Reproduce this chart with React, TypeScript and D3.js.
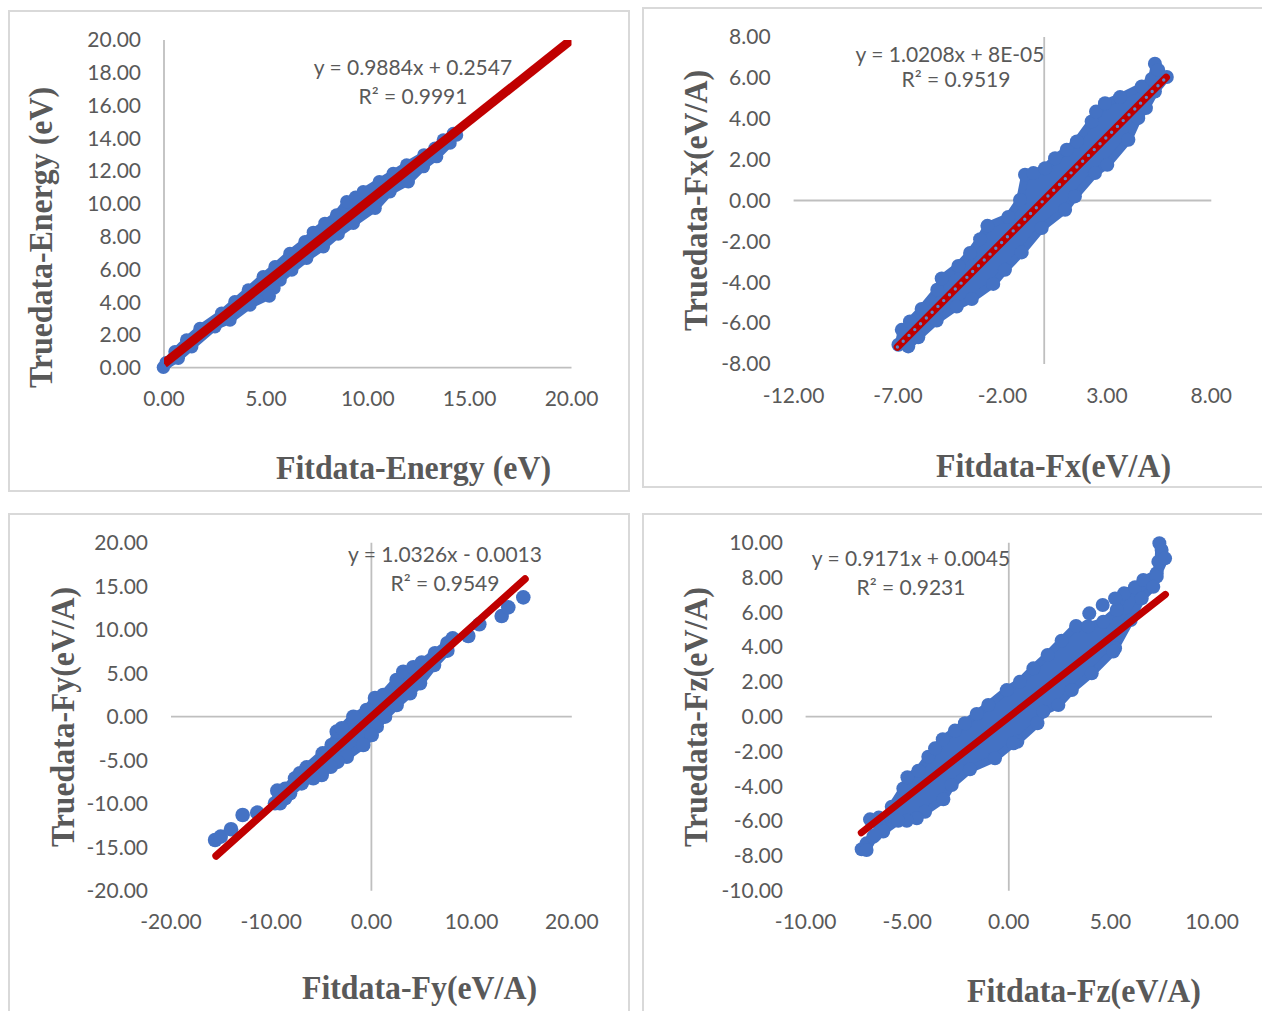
import React, { useEffect, useRef } from "react";
import * as d3 from "d3";

type Pt = [number, number];

const energyTicksX = [0, 5, 10, 15, 20];
const energyTicksY = [0, 2, 4, 6, 8, 10, 12, 14, 16, 18, 20];
const fxTicksX = [-12, -7, -2, 3, 8];
const fxTicksY = [-8, -6, -4, -2, 0, 2, 4, 6, 8];
const fyTicksX = [-20, -10, 0, 10, 20];
const fyTicksY = [-20, -15, -10, -5, 0, 5, 10, 15, 20];
const fzTicksX = [-10, -5, 0, 5, 10];
const fzTicksY = [-10, -8, -6, -4, -2, 0, 2, 4, 6, 8, 10];

const energyTrend: Pt[] = [[0, 0.25], [20, 20.02]];
const fxTrend: Pt[] = [[-7.03, -7.17], [5.84, 6.02]];
const fyTrend: Pt[] = [[-15.5, -16.0], [15.33, 15.83]];
const fzTrend: Pt[] = [[-7.26, -6.67], [7.71, 7.03]];

// the clouds are thousands of overlapping dots, so only the outer dots are read off:
// upper edge left to right, lower edge right to left, and the dots that stand alone
const energyUpper: Pt[] = [
  [-0.03, 0.02], [0.1, 0.3], [0.54, 0.98], [1.11, 1.69], [1.77, 2.4], [2.83, 3.32], [3.48, 4.03], [4.14, 4.74], [4.87, 5.55],
  [5.45, 6.16], [6.18, 6.97], [6.92, 7.69], [7.33, 8.26], [7.9, 8.81], [8.47, 9.32], [8.97, 10.13], [9.4, 10.4], [9.78, 10.74],
  [10.57, 11.35], [11.25, 11.86], [11.91, 12.37], [12.76, 12.99], [13.3, 13.4], [13.71, 13.9], [14.2, 14.3],
];
const energyLower: Pt[] = [
  [14.36, 14.2], [14.04, 13.71], [13.38, 12.88], [12.73, 12.27], [11.99, 11.35], [11.09, 10.74], [10.36, 9.73], [9.29, 8.81],
  [8.55, 8.16], [7.82, 7.38], [7, 6.68], [6.27, 5.96], [5.7, 5.35], [5.4, 4.86], [5.17, 4.38], [4.22, 3.83], [3.24, 2.91],
  [2.5, 2.5], [1.36, 1.28], [0.7, 0.57],
];
const energyLoose: Pt[] = [];

const fxUpper: Pt[] = [
  [-6.98, -7.06], [-6.82, -6.33], [-6.43, -5.92], [-5.87, -5.31], [-5.12, -4.37], [-4.91, -3.82], [-4.11, -3.2], [-3.55, -2.57],
  [-3.07, -1.89], [-2.72, -1.24], [-1.72, -0.81], [-1.16, 0.03], [-0.92, 1.26], [-0.52, 1.34], [0.04, 1.58], [0.52, 2.07],
  [1.08, 2.48], [1.56, 2.89], [2.27, 3.87], [2.48, 4.35], [2.91, 4.76], [3.63, 5.06], [4.67, 5.58], [5.15, 5.95], [5.3, 6.69],
  [5.46, 6.39], [5.87, 6.04],
];
const fxLower: Pt[] = [
  [5.3, 5.33], [4.87, 4.52], [4.5, 4.03], [4.03, 2.97], [3.02, 1.75], [2.43, 1.34], [1.47, 0.2], [1.0, -0.45], [-0.12, -1.35],
  [-1.08, -2.54], [-1.88, -3.39], [-2.44, -4.08], [-3.47, -4.82], [-4.19, -5.19], [-5.15, -5.87], [-6.03, -6.69], [-6.51, -7.14],
];
const fxLoose: Pt[] = [];

const fyUpper: Pt[] = [
  [-9.62, -9.95], [-9.39, -8.5], [-8.6, -8.3], [-7.62, -7.08], [-7.13, -6.5], [-6.46, -5.82], [-4.86, -4.21], [-3.96, -3.25],
  [-3.46, -1.72], [-2.96, -1.33], [-1.8, 0], [-0.47, 0.77], [0.36, 2.15], [1.19, 2.5], [2.52, 4.22], [3.18, 5.17], [4.18, 5.68],
  [5.02, 6.21], [6.35, 7.29], [7.58, 8.44], [8.11, 9.01],
];
const fyLower: Pt[] = [
  [7.58, 7.59], [6.25, 5.94], [4.85, 3.84], [3.85, 2.69], [2.52, 1.34], [1.36, 0], [0.53, -1.15], [0.03, -2.1], [-0.81, -3.25],
  [-2.46, -4.6], [-3.4, -5.2], [-4.06, -5.75], [-4.96, -6.7], [-5.8, -7.08], [-6.96, -7.66], [-8.12, -8.8], [-8.62, -9.38], [-9.12, -9.95],
];
const fyLoose: Pt[] = [
  [-15.6, -14.17], [-15.04, -13.79], [-14.01, -12.94], [-12.85, -11.3], [-11.39, -11.03], [9.67, 9.28], [10.77, 10.62], [13, 11.57],
  [13.66, 12.57], [15.16, 13.72],
];

const fzUpper: Pt[] = [
  [-7.24, -7.62], [-7.0, -7.28], [-6.67, -6.9], [-6.34, -6.3], [-5.76, -5.17], [-5.19, -4.12], [-4.99, -3.48], [-4.45, -3.1],
  [-3.96, -2.3], [-3.63, -1.82], [-3.25, -1.3], [-2.65, -0.8], [-2.16, -0.38], [-1.58, 0.16], [-1.01, 0.67], [-0.1, 1.53], [0.55, 2.01],
  [1.21, 2.78], [1.91, 3.55], [2.6, 4.37], [3.31, 5.21], [3.9, 5.2], [4.65, 5.46], [5.31, 6.13], [5.67, 7.09], [6.21, 7.44], [6.62, 7.86],
  [7.28, 8.24], [7.36, 8.91], [7.41, 9.97], [7.52, 9.58], [7.69, 9.1],
];
const fzLower: Pt[] = [
  [7.28, 8.05], [7.11, 7.47], [6.54, 6.8], [6.0, 5.56], [5.23, 3.93], [5.14, 3.74], [4.08, 2.49], [3.1, 1.53], [2.44, 0.67], [1.7, 0.29],
  [1.41, -0.38], [0.42, -1.44], [0.22, -1.53], [-0.68, -2.39], [-1.91, -3.02], [-2.81, -3.93], [-3.22, -4.75], [-4.12, -5.46],
  [-4.53, -5.84], [-5.02, -5.98], [-5.44, -5.98], [-6.18, -6.6], [-6.58, -6.8], [-7.0, -7.66],
];
const fzLoose: Pt[] = [[-6.83, -5.9], [-6.4, -5.8], [3.96, 5.94], [4.62, 6.42], [5.23, 6.8]];

const BLUE = "#4472C4";
const RED = "#C00000";
const GREY = "#595959";
const AXIS = "#BFBFBF";

const panels = [
  {
    id: "energy", upper: energyUpper, lower: energyLower, loose: energyLoose, trend: energyTrend, ticksX: energyTicksX, ticksY: energyTicksY,
    box: [9, 11, 620, 480], xr: [164, 571.5], yr: [367.7, 40], yLabelX: 141, xLabelY: 406, r: 6.7, lw: 9, cap: "butt",
    eq: ["y = 0.9884x + 0.2547", "R² = 0.9991"], eqPos: [413, 75, 413, 104],
    xTitle: "Fitdata-Energy (eV)", xT: [276, 479, 275], yTitle: "Truedata-Energy (eV)", yT: [52, 388, 301],
  },
  {
    id: "fx", upper: fxUpper, lower: fxLower, loose: fxLoose, trend: fxTrend, ticksX: fxTicksX, ticksY: fxTicksY,
    box: [643, 8, 640, 479], xr: [793.6, 1211.3], yr: [364, 37], yLabelX: 770.6, xLabelY: 403, r: 7, lw: 7.5, cap: "round", dotted: true,
    eq: ["y = 1.0208x + 8E-05", "R² = 0.9519"], eqPos: [950, 62, 956, 87],
    xTitle: "Fitdata-Fx(eV/A)", xT: [936, 477, 235], yTitle: "Truedata-Fx(eV/A)", yT: [707, 331, 261],
  },
  {
    id: "fy", upper: fyUpper, lower: fyLower, loose: fyLoose, trend: fyTrend, ticksX: fyTicksX, ticksY: fyTicksY,
    box: [9, 514, 620, 520], xr: [171, 571.8], yr: [890.7, 542.7], yLabelX: 148, xLabelY: 929, r: 7.3, lw: 7.5, cap: "round",
    eq: ["y = 1.0326x - 0.0013", "R² = 0.9549"], eqPos: [445, 562, 445, 591],
    xTitle: "Fitdata-Fy(eV/A)", xT: [302, 999, 235], yTitle: "Truedata-Fy(eV/A)", yT: [74, 847, 260],
  },
  {
    id: "fz", upper: fzUpper, lower: fzLower, loose: fzLoose, trend: fzTrend, ticksX: fzTicksX, ticksY: fzTicksY,
    box: [643, 514, 640, 520], xr: [805.6, 1212], yr: [890.7, 542.7], yLabelX: 783, xLabelY: 929, r: 7, lw: 7, cap: "round",
    eq: ["y = 0.9171x + 0.0045", "R² = 0.9231"], eqPos: [911, 566, 911, 595],
    xTitle: "Fitdata-Fz(eV/A)", xT: [967, 1002, 234], yTitle: "Truedata-Fz(eV/A)", yT: [707, 847, 260],
  },
];

const fmt = (d: any) => Number(d).toFixed(2);

export default function App() {
  const ref = useRef<SVGSVGElement>(null);

  useEffect(() => {
    const svg = d3.select(ref.current);
    svg.selectAll("*").remove();
    svg.append("rect").attr("width", 1262).attr("height", 1011).attr("fill", "#fff");

    panels.forEach((p: any) => {
      const g = svg.append("g");
      g.append("rect")
        .attr("x", p.box[0]).attr("y", p.box[1])
        .attr("width", p.box[2]).attr("height", p.box[3])
        .attr("fill", "#fff").attr("stroke", "#D9D9D9").attr("stroke-width", 2);

      const x = d3.scaleLinear().domain(d3.extent(p.ticksX) as any).range(p.xr);
      const y = d3.scaleLinear().domain(d3.extent(p.ticksY) as any).range(p.yr);

      // zero lines, the excel axes
      g.append("line").attr("x1", p.xr[0]).attr("x2", p.xr[1]).attr("y1", y(0)).attr("y2", y(0))
        .attr("stroke", AXIS).attr("stroke-width", 1.8);
      g.append("line").attr("x1", x(0)).attr("x2", x(0)).attr("y1", p.yr[0]).attr("y2", p.yr[1])
        .attr("stroke", AXIS).attr("stroke-width", 1.8);

      const line = d3.line<Pt>().x((d) => x(d[0])).y((d) => y(d[1]));

      // solid body of the cloud, then the dots on top of it
      const outline = [...p.upper, ...p.lower];
      g.append("path").attr("d", line(outline) + "Z")
        .attr("fill", BLUE).attr("stroke", BLUE)
        .attr("stroke-width", p.r * 1.1).attr("stroke-linejoin", "round");
      g.append("g").selectAll("circle").data([...outline, ...p.loose]).join("circle")
        .attr("cx", (d: any) => x(d[0])).attr("cy", (d: any) => y(d[1]))
        .attr("r", p.r).attr("fill", BLUE);

      const clipId = "clip-" + p.id;
      svg.append("clipPath").attr("id", clipId).append("rect")
        .attr("x", p.xr[0]).attr("y", p.yr[1])
        .attr("width", p.xr[1] - p.xr[0]).attr("height", p.yr[0] - p.yr[1]);

      g.append("path").attr("d", line(p.trend)).attr("fill", "none")
        .attr("stroke", RED).attr("stroke-width", p.lw).attr("stroke-linecap", p.cap)
        .attr("clip-path", `url(#${clipId})`);
      if (p.dotted) {
        g.append("path").attr("d", line(p.trend)).attr("fill", "none")
          .attr("stroke", "#5B86CC").attr("stroke-width", 3.4).attr("stroke-linecap", "round")
          .attr("stroke-dasharray", "0 8.2");
      }

      const xAxis = d3.axisBottom(x).tickValues(p.ticksX).tickFormat(fmt).tickSize(0).offset(0);
      const yAxis = d3.axisLeft(y).tickValues(p.ticksY).tickFormat(fmt).tickSize(0).offset(0);
      const gx = g.append("g").attr("transform", `translate(0,${p.xLabelY})`).call(xAxis);
      const gy = g.append("g").attr("transform", `translate(${p.yLabelX},0)`).call(yAxis);
      gx.select(".domain").remove();
      gy.select(".domain").remove();
      gx.selectAll("text").attr("y", 0).attr("dy", 0);
      gy.selectAll("text").attr("x", 0).attr("dy", "0.35em");
      [gx, gy].forEach((a) =>
        a.attr("font-family", "Lato").attr("font-size", 21)
          .selectAll("text").attr("fill", GREY)
      );

      g.append("text").attr("x", p.eqPos[0]).attr("y", p.eqPos[1]).attr("text-anchor", "middle")
        .attr("font-family", "Lato").attr("font-size", 21).attr("fill", GREY).text(p.eq[0]);
      g.append("text").attr("x", p.eqPos[2]).attr("y", p.eqPos[3]).attr("text-anchor", "middle")
        .attr("font-family", "Lato").attr("font-size", 21).attr("fill", GREY).text(p.eq[1]);

      g.append("text").attr("x", p.xT[0]).attr("y", p.xT[1])
        .attr("textLength", p.xT[2]).attr("lengthAdjust", "spacingAndGlyphs")
        .attr("font-family", "Liberation Serif").attr("font-weight", "bold").attr("font-size", 33)
        .attr("fill", GREY).text(p.xTitle);
      g.append("text").attr("transform", `translate(${p.yT[0]},${p.yT[1]}) rotate(-90)`)
        .attr("textLength", p.yT[2]).attr("lengthAdjust", "spacingAndGlyphs")
        .attr("font-family", "Liberation Serif").attr("font-weight", "bold").attr("font-size", 33)
        .attr("fill", GREY).text(p.yTitle);
    });
  }, []);

  return (
    <svg
      ref={ref}
      width={1262}
      height={1011}
      style={{ position: "absolute", left: 0, top: 0, display: "block" }}
    ></svg>
  );
}
